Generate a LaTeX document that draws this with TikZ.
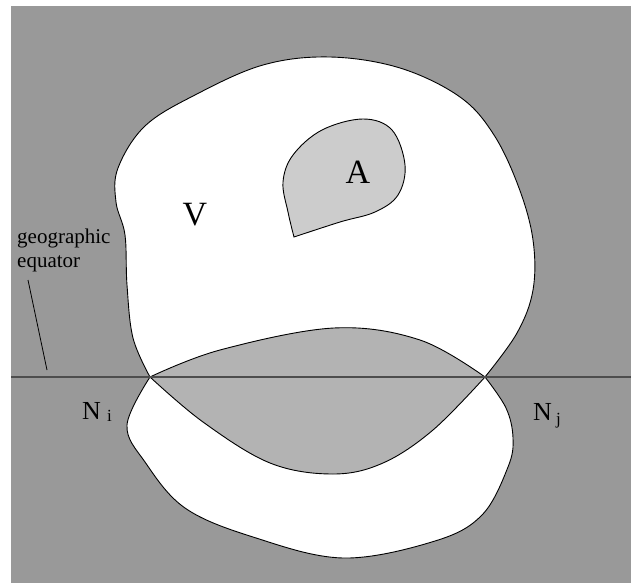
\documentclass[tikz,border=0pt]{standalone}
\usepackage{fontspec}
\setmainfont{Liberation Serif}
\definecolor{bggray}{HTML}{999999}
\definecolor{lensgray}{HTML}{B3B3B3}
\definecolor{agray}{HTML}{CCCCCC}
\definecolor{eqgray}{HTML}{4D4D4D}
\newcommand\VPath{plot[smooth,tension=0.6] coordinates {(150,377) (133,338) (127,285) (125,235) (116,202) (118,168) (145,126) (195,95) (263,65) (330,57) (400,68) (460,97) (494,135) (519,188) (533,240) (533,290) (517,333) (485,377)}
  -- plot[smooth,tension=0.6] coordinates {(485,377) (433,430) (383,463) (333,474) (270,463) (203,422) (150,377)} -- cycle}
\newcommand\NPath{plot[smooth,tension=0.6] coordinates {(150,377) (220,350) (334,328) (420,340) (485,377)}
  -- plot[smooth,tension=0.6] coordinates {(485,377) (506,408) (513,438) (508,467) (482,515) (435,541) (343,558) (253,537) (185,508) (145,462) (127,425) (150,377)} -- cycle}
\newcommand\APath{plot[smooth,tension=0.6] coordinates {(294,237) (288,212) (283,182) (293,155) (322,130) (363,119) (392,130) (405,165) (398,195) (375,212) (340,222) (294,237)} -- cycle}
\tikzset{
  outline/.style={draw=black, line width=0.9pt},
  bigtext/.style={inner sep=0pt, anchor=base, font=\fontsize{34}{38}\selectfont},
  ntext/.style={inner sep=0pt, anchor=base west, font=\fontsize{26}{30}\selectfont},
  subtext/.style={inner sep=0pt, anchor=base west, font=\fontsize{17}{20}\selectfont},
  smalltext/.style={inner sep=0pt, anchor=base west, font=\fontsize{21}{24}\selectfont},
}
\begin{document}
\begin{tikzpicture}[x=1pt,y=-1pt]
\useasboundingbox (0,0) rectangle (631,583);
\fill[bggray] (11,6) rectangle (631,583);
\coordinate (Ni) at (150,377);
\coordinate (Nj) at (485,377);
% white regions
\fill[white] \VPath;
\fill[white] \NPath;
% lens = intersection
\begin{scope}
  \clip \VPath;
  \fill[lensgray] \NPath;
\end{scope}
\draw[outline] \VPath;
\draw[outline] \NPath;
% region A
\fill[agray] \APath;
\draw[outline] \APath;
% equator
\coordinate (eqL) at (11,377);
\coordinate (eqR) at (631,377);
\draw[eqgray, line width=1.6pt] (eqL) -- (eqR);
% leader line
\coordinate (lead1) at (28,280);
\coordinate (lead2) at (47,370);
\draw[black, line width=0.8pt] (lead1) -- (lead2);
% labels
\node[bigtext] (lblA) at (358,183) {A};
\node[bigtext] (lblV) at (195,225) {V};
\node[smalltext] (geo) at (17,243) {geographic};
\node[smalltext] (equ) at (17,267) {equator};
\node[ntext] (Nilbl) at (82,419) {N};
\node[subtext] (ilbl) at (107,421) {i};
\node[ntext] (Njlbl) at (533,420) {N};
\node[subtext] (jlbl) at (556,424) {j};
\end{tikzpicture}
\end{document}
